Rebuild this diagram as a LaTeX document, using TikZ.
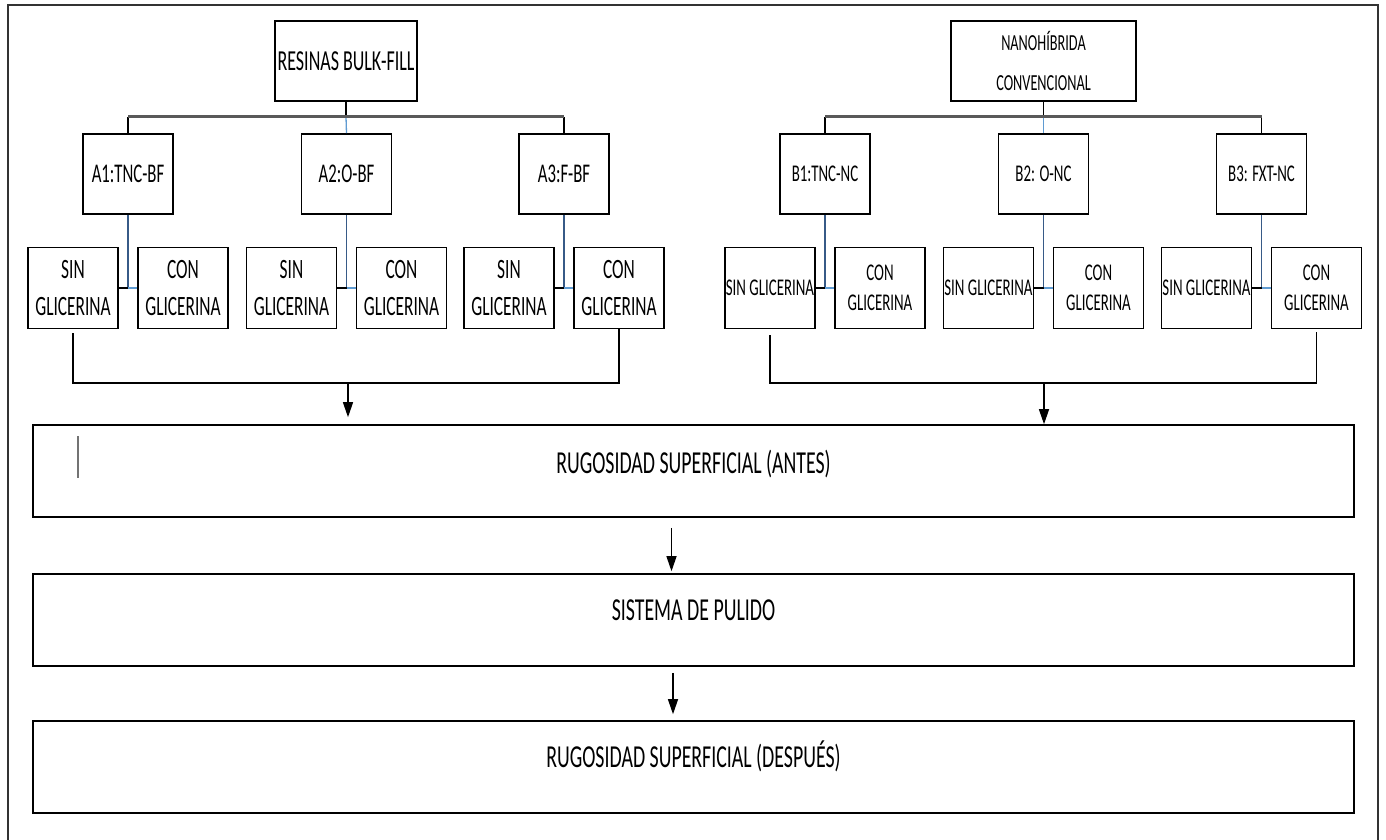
\documentclass[tikz,border=0pt]{standalone}
\usepackage{fontspec}
\setmainfont{Carlito}[FakeStretch=0.62]
\usetikzlibrary{arrows.meta}
\definecolor{stemblue}{RGB}{55,90,135}
\definecolor{linkblue}{RGB}{95,155,210}

\begin{document}
\begin{tikzpicture}[x=1pt, y=-1pt,
    box/.style={draw, line width=1.6pt, inner sep=0pt, align=center},
    cell/.style={box, minimum width=90pt, minimum height=81pt},
    wide/.style={box, minimum width=1321pt, text height=46pt, text depth=46pt, font=\fontsize{32}{38}\selectfont},
    link/.style={line width=1.3pt},
    bus/.style={line width=3pt, black!65},
    arr/.style={line width=1.3pt, -{Triangle[length=15pt,width=10pt]}}]
    \useasboundingbox (0,0) rectangle (1386,840);
    \draw[line width=1.6pt, black!80] (8,850) -- (8,5) -- (1378,5) -- (1378,850);

    % grupos
    \node[box, minimum width=142pt, minimum height=80pt, font=\fontsize{29}{34}\selectfont] (res) at (346,61) {RESINAS BULK-FILL};
    \node[box, minimum width=185pt, minimum height=80pt, font=\fontsize{23}{40}\selectfont] (nano) at (1043.5,61) {NANOH\'IBRIDA\\CONVENCIONAL};

    \foreach \n/\x/\t in {a1/128/A1:TNC-BF, a2/346.5/A2:O-BF, a3/564/A3:F-BF}{
        \node[cell, minimum height=80pt, font=\fontsize{27}{32}\selectfont] (\n) at (\x,174) {\t};
        \node[cell, font=\fontsize{28}{37}\selectfont] (s\n) at (\x-55,288) {SIN\\GLICERINA};
        \node[cell, font=\fontsize{28}{37}\selectfont] (c\n) at (\x+55,288) {CON\\GLICERINA};
    }
    \foreach \n/\x/\t in {b1/825/B1:TNC-NC, b2/1043.5/B2: O-NC, b3/1261.5/B3: FXT-NC}{
        \node[cell, minimum height=80pt, font=\fontsize{24}{30}\selectfont] (\n) at (\x,174) {\t};
        \node[cell, font=\fontsize{24}{30}\selectfont] (s\n) at (\x-55,288) {SIN GLICERINA};
        \node[cell, font=\fontsize{24}{30}\selectfont] (c\n) at (\x+55,288) {CON\\GLICERINA};
    }

    % ramas
    \coordinate (busA) at (346,117);
    \coordinate (busB) at (1043.5,117);
    \draw[link] (res.south) -- (busA);
    \draw[link, linkblue] (busA) -- (a2.north);
    \draw[link] (nano.south) -- (busB);
    \draw[link, linkblue] (busB) -- (b2.north);
    \foreach \n in {a1,a3,b1,b3}
        \draw[link] (\n.north) -- (\n.north |- busA);
    \draw[bus] (a1.north |- busA) -- (a3.north |- busA);
    \draw[bus] (b1.north |- busB) -- (b3.north |- busB);

    \foreach \n in {a1,a2,a3,b1,b2,b3}{
        \draw[link, stemblue] (\n.south) -- (\n.south |- s\n.east);
        \draw[link] (s\n.east) -- (\n.south |- s\n.east);
        \draw[link, linkblue] (\n.south |- s\n.east) -- (c\n.west);
    }

    % proceso
    \node[wide, text height=48pt, text depth=44pt] (antes) at (693.5,471) {RUGOSIDAD SUPERFICIAL (ANTES)};
    \node[wide] (pulido) at (693.5,620) {SISTEMA DE PULIDO};
    \node[wide] (despues) at (693.5,767) {RUGOSIDAD SUPERFICIAL (DESPU\'ES)};
    \draw[line width=1.3pt, black!55] (78,436) -- (78,478);

    \coordinate (dropA) at (348,383);
    \coordinate (dropB) at (1044,383);
    \draw[link] ([yshift=-4pt]sa1.south) |- (dropA) -| (ca3.south);
    \draw[link] ([yshift=-6pt]sb1.south) |- (dropB) -| ([yshift=-3pt]cb3.south);
    \draw[arr, shorten >=7pt] (dropA) -- (dropA |- antes.north);
    \draw[arr] (dropB) -- (dropB |- antes.north);
    \draw[arr, shorten <=10pt, shorten >=2pt] ([xshift=-22pt]antes.south) -- ([xshift=-22pt]pulido.north);
    \draw[arr, shorten <=6pt, shorten >=6pt] ([xshift=-20.5pt]pulido.south) -- ([xshift=-20.5pt]despues.north);
\end{tikzpicture}
\end{document}
